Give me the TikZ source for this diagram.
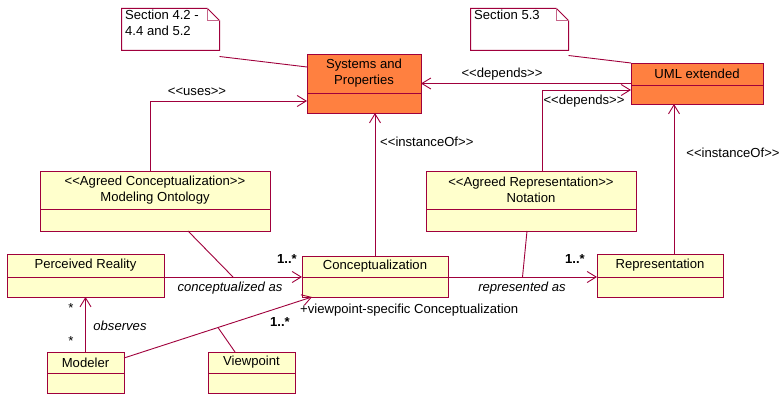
\documentclass[tikz,border=0pt]{standalone}
\usepackage{fontspec}
\setmainfont{Liberation Sans}
\usetikzlibrary{arrows.meta,calc}
\definecolor{umlborder}{RGB}{160,0,60}
\definecolor{classfill}{RGB}{255,255,204}
\definecolor{pkgfill}{RGB}{255,128,64}
\tikzset{
  umlline/.style={draw=umlborder, line width=0.9pt},
  openarrow/.style={umlline, -{Straight Barb[length=9pt,width=11pt,line width=0.9pt]}},
  classbox/.style={umlline, rectangle, inner sep=0pt, outer sep=0pt},
  notebox/.style={rectangle, inner sep=0pt, outer sep=0pt},
  lbl/.style={font=\fontsize{13.1}{16}\selectfont, inner sep=0pt, text=black},
  ilbl/.style={lbl, font=\fontsize{13.1}{16}\selectfont\itshape},
  mult/.style={lbl, font=\fontsize{13.1}{16}\selectfont\bfseries},
}
% UML class: name, x1, y1, x2, y2, divider y, fill colour, title
\newcommand{\classbox}[8]{%
  \node[classbox, fill=#7, minimum width={#4-#2}, minimum height={#5-#3}]
    (#1) at ({(#2+#4)/2},{(#3+#5)/2}) {};
  \coordinate (#1-dl) at (#2,#6);
  \coordinate (#1-dr) at (#4,#6);
  \draw[umlline] (#1-dl) -- (#1-dr);
  \node[lbl, align=center] (#1-t) at ({(#2+#4)/2},{(#3+#6)/2}) {#8};
}
% UML note with folded corner: name, x1, y1, x2, y2
\newcommand{\notebox}[5]{%
  \node[notebox, minimum width={#4-#2}, minimum height={#5-#3}]
    (#1) at ({(#2+#4)/2},{(#3+#5)/2}) {};
  \draw[umlline, line width=1pt, fill=white] (#1.north west) -- ([xshift=-12pt]#1.north east)
    -- ([yshift=-12pt]#1.north east) -- (#1.south east) -- (#1.south west) -- cycle;
  \draw[umlline, draw=umlborder!60] ([xshift=-12pt]#1.north east)
    |- ([yshift=-12pt]#1.north east);
}
\begin{document}
\begin{tikzpicture}[x=1pt, y=-1pt]
\useasboundingbox[fill=white] (0,0) rectangle (783,395);

% notes
\notebox{note1}{121.5}{8.5}{219.5}{50.5}
\node[lbl, anchor=north west, align=left] (note1-t) at (125,10) {Section 4.2 -\\4.4 and 5.2};
\notebox{note2}{470.5}{8.5}{568.5}{50.5}
\node[lbl, anchor=north west] (note2-t) at (474,10) {Section 5.3};

% classes
\classbox{sys}{307}{54}{421}{113}{93}{pkgfill}{Systems and\\Properties}
\classbox{uml}{631}{63}{763}{104}{85}{pkgfill}{UML extended}
\classbox{mo}{40}{171}{270}{231}{209}{classfill}{<{}<Agreed Conceptualization>{}>\\Modeling Ontology}
\classbox{nt}{426}{171}{636}{231}{209}{classfill}{<{}<Agreed Representation>{}>\\Notation}
\classbox{pr}{7}{254}{164}{297}{277}{classfill}{Perceived Reality}
\classbox{cz}{302}{256}{448}{297}{277}{classfill}{Conceptualization}
\classbox{rp}{597}{254}{723}{297}{277}{classfill}{Representation}
\classbox{md}{47}{352}{124}{393}{373}{classfill}{Modeler}
\classbox{vp}{208}{352}{295}{393}{373}{classfill}{Viewpoint}

% note anchors
\draw[umlline] ([yshift=-6pt]note1.south east) -- ($(sys.north west)+(0,13)$);
\draw[umlline] ([yshift=-5pt]note2.south east) -- (uml.north west);

% dependencies
\draw[openarrow] ($(mo.north west)+(110,0)$) |- ($(sys.south west)+(0,-12)$);
\node[lbl] (uses-l) at (197,92) {<{}<uses>{}>};

\draw[openarrow] (cz.north) -- (sys.south -| cz.north);
\node[lbl, anchor=west] (inst1-l) at (380,142) {<{}<instanceOf>{}>};

\draw[openarrow] (uml.west) -- (sys.east |- uml.west);
\node[lbl] (dep1-l) at (502,74) {<{}<depends>{}>};

\draw[openarrow] ($(nt.north)+(11,0)$) |- ($(uml.west)+(0,6.5)$);
\node[lbl] (dep2-l) at (584,101) {<{}<depends>{}>};

\draw[openarrow] ($(rp.north)+(14,0)$) coordinate (rpup) -- (uml.south -| rpup);
\node[lbl] (inst2-l) at (733,153) {<{}<instanceOf>{}>};

% associations
\draw[openarrow] (pr-dr) -- (cz-dl);
\coordinate (ca) at ($(pr-dr)!0.5!(cz-dl)$);
\draw[umlline] ($(mo.south)+(33,0)$) -- (ca);
\node[ilbl] (ca-l) at (230,288) {conceptualized as};
\node[mult] (ca-m) at (287,259) {1..*};

\draw[openarrow] (md.north) -- (pr.south -| md.north);
\node[lbl] (obs-m1) at (71,308) {*};
\node[lbl] (obs-m2) at (71,341) {*};
\node[ilbl] (obs-l) at (120,326) {observes};

\draw[openarrow] ($(md.north east)+(0,6)$) coordinate (mdv) -- ($(cz.south west)+(10,0)$) coordinate (czv);
\draw[umlline] ($(vp.north)+(-16.5,0)$) -- ($(mdv)!0.5!(czv)$);
\node[mult] (vp-m) at (280,322) {1..*};
\node[lbl, anchor=west] (vp-r) at (300,310) {+viewpoint-specific Conceptualization};

\draw[openarrow] (cz-dr) -- (rp-dl);
\coordinate (ra) at ($(cz-dr)!0.5!(rp-dl)$);
\draw[umlline] ($(nt.south)+(-4,0)$) -- (ra);
\node[ilbl] (ra-l) at (522,288) {represented as};
\node[mult] (ra-m) at (575,259) {1..*};
\end{tikzpicture}
\end{document}
